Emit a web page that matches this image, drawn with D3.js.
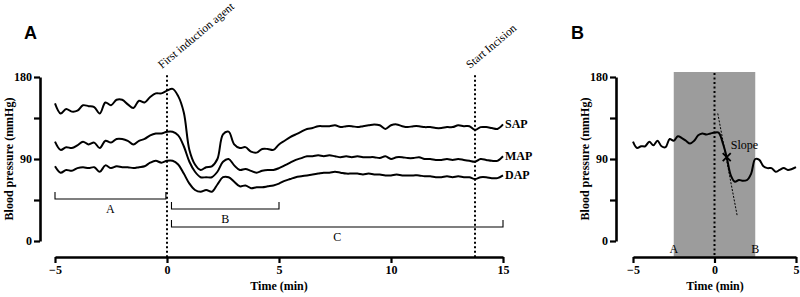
<!DOCTYPE html>
<html>
<head>
<meta charset="utf-8">
<script src="https://cdn.jsdelivr.net/npm/d3@7"></script>
<style>
  body { margin: 0; background: #fff; }
</style>
</head>
<body>
<div></div>
<script>

// panel A: time grid (min) and the three pressure traces (mmHg)
const timeA = d3.range(-5, 15.001, 0.25);
const sap = [151,140,145,142,143,149,148,147,140,152,149,155,155,150,146,154,152,158,162,162,165,167,
             159,141,100,84,78,81,82,90,117,120,106,102,103,98,97,101,101,100,106,110,114,117,
             120,123,124,126,126,126,127,125,126,126,125,126,127,128,127,123,127,128,126,125,126,126,125,125,
             124,124,125,125,127,126,126,122,125,125,124,123,128];
const map = [109,100,103,102,105,109,106,108,102,110,108,112,112,110,106,110,112,116,118,118,120,120,
             116,104,87,76,70,70,70,76,87,90,83,78,79,77,75,77,78,78,80,83,86,89,
             91,93,93,94,93,94,93,92,93,92,93,92,92,92,91,93,90,92,92,91,91,92,90,90,
             89,89,90,89,90,89,88,87,90,89,88,88,93];
const dap = [82,75,78,77,80,81,80,81,76,83,80,82,81,81,80,81,82,86,88,86,88,88,
             84,74,63,56,54,56,54,62,70,70,65,60,61,58,59,59,60,61,63,66,68,70,
             71,72,73,74,75,75,76,75,74,74,74,73,74,73,73,72,72,73,72,72,72,72,71,71,
             70,70,71,70,71,70,70,68,70,70,69,69,72];
const seriesNames = ["SAP", "MAP", "DAP"];

const eventTimes = [0, 13.75];
const eventLabels = ["First induction agent", "Start Incision"];

const phaseLabels = ["A", "B", "C"];
const phaseStart = [-5, 0.2, 0.2];
const phaseEnd = [-0.05, 5, 15];

// panel B: single trace
const timeB = d3.range(-5, 5.001, 0.25);
const bpB = [109,102,104,104,109,105,110,104,103,112,110,115,113,110,107,110,116,118,117,118,119,119,
             108,92,72,65,67,66,67,74,90,89,82,80,80,76,78,80,78,79,81];
const windowB = [-2.5, 2.5];
const windowLabels = ["A", "B"];
const slopePoint = [0.75, 92];
const slopeLine = [[0.2, 140], [1.4, 27]];

const yTicks = [0, 45, 90, 135, 180];
const yLabelTicks = [0, 90, 180];

const serif = "'Liberation Serif', 'DejaVu Serif', serif";
const sans = "'Liberation Sans', Arial, sans-serif";

function main(){
    let width = 800, height = 297;
    let svg = d3.select("div").append("svg")
                .attr("width", width).attr("height", height)
                .style("font-family", serif);

    let axisY = 257;
    let y = d3.scaleLinear().domain([0, 180]).range([241, 77]);

    function addText(g, size, txt){
        return g.append("text").style("font-family", serif).attr("font-size", size)
                .attr("fill", "#000").text(txt);
    }

    function styleAxis(s){
        s.attr("font-family", null).attr("font-size", null);
        s.select(".domain").attr("stroke-width", 2.6);
        s.selectAll(".tick line").attr("stroke-width", 2.2);
        s.selectAll(".tick text").style("font-family", serif)
            .attr("font-size", 12).attr("font-weight", "bold");
    }

    function drawAxes(g, x, yAxisX, xTicks, titleX){
        let yAxis = d3.axisLeft(y).tickValues(yTicks).tickSize(6).tickSizeOuter(0).tickPadding(2)
                        .tickFormat(d => yLabelTicks.includes(d) ? d : "");
        g.append("g").attr("transform", `translate(${yAxisX},0)`).call(yAxis).call(styleAxis);
        let xAxis = d3.axisBottom(x).tickValues(xTicks).tickSize(6).tickSizeOuter(0).tickPadding(2);
        g.append("g").attr("transform", `translate(0,${axisY})`).call(xAxis).call(styleAxis);

        addText(g, 12, "Time (min)")
            .attr("x", titleX).attr("y", 290)
            .attr("text-anchor", "middle").attr("font-weight", "bold");
        addText(g, 12, "Blood pressure (mmHg)")
            .attr("transform", `translate(${yAxisX - 27},159) rotate(-90)`)
            .attr("text-anchor", "middle").attr("font-weight", "bold");
    }

    let line = (x) => d3.line().x(d => x(d[0])).y(d => y(d[1])).curve(d3.curveCatmullRom.alpha(0.5));

    // ---------- panel A ----------
    let xA = d3.scaleLinear().domain([-5, 15]).range([55, 503]);
    let gA = svg.append("g").attr("id", "panelA");

    gA.append("text").attr("x", 24).attr("y", 39)
        .style("font-family", sans)
        .attr("font-size", 18).attr("font-weight", "bold").text("A");

    drawAxes(gA, xA, 40, [-5, 0, 5, 10, 15], 279);

    eventTimes.forEach((t, i) => {
        gA.append("line")
            .attr("x1", xA(t)).attr("x2", xA(t))
            .attr("y1", y(182)).attr("y2", axisY)
            .attr("stroke", "#000").attr("stroke-width", 2).attr("stroke-dasharray", "2,2.5");
        addText(gA, 11.5, eventLabels[i])
            .attr("transform", `translate(${xA(t) - 5},69) rotate(-40)`);
    });

    let bracketY = [199, 209, 227];
    phaseLabels.forEach((lab, i) => {
        let x0 = xA(phaseStart[i]), x1 = xA(phaseEnd[i]), by = bracketY[i];
        gA.append("path")
            .attr("d", `M${x0},${by - 7}V${by}H${x1}V${by - 7}`)
            .attr("fill", "none").attr("stroke", "#000").attr("stroke-width", 1.1);
        addText(gA, 12, lab).attr("x", (x0 + x1) / 2).attr("y", by + 14)
            .attr("text-anchor", "middle");
    });

    [sap, map, dap].forEach((vals, i) => {
        let pts = timeA.map((t, j) => [t, vals[j]]);
        gA.append("path").datum(pts)
            .attr("d", line(xA))
            .attr("fill", "none").attr("stroke", "#000").attr("stroke-width", 2);
        addText(gA, 12, seriesNames[i])
            .attr("x", xA(15) + 2).attr("y", y(vals[vals.length - 1]) + 4)
            .attr("font-weight", "bold");
    });

    // ---------- panel B ----------
    let xB = d3.scaleLinear().domain([-5, 5]).range([633, 796]);
    let gB = svg.append("g").attr("id", "panelB");

    gB.append("text").attr("x", 571).attr("y", 39)
        .style("font-family", sans)
        .attr("font-size", 18).attr("font-weight", "bold").text("B");

    gB.append("rect")
        .attr("x", xB(windowB[0])).attr("width", xB(windowB[1]) - xB(windowB[0]))
        .attr("y", 72).attr("height", axisY - 72)
        .attr("fill", "#9c9c9c");

    drawAxes(gB, xB, 616, [-5, 0, 5], 715);

    windowB.forEach((t, i) => {
        addText(gB, 12, windowLabels[i]).attr("x", xB(t)).attr("y", 253)
            .attr("text-anchor", "middle");
    });

    gB.append("line")
        .attr("x1", xB(0)).attr("x2", xB(0)).attr("y1", 73).attr("y2", axisY)
        .attr("stroke", "#000").attr("stroke-width", 2).attr("stroke-dasharray", "2,2.5");

    gB.append("path").datum(slopeLine)
        .attr("d", d3.line().x(d => xB(d[0])).y(d => y(d[1])))
        .attr("stroke", "#000").attr("stroke-width", 1).attr("stroke-dasharray", "2,1.5");

    gB.append("path").datum(timeB.map((t, j) => [t, bpB[j]]))
        .attr("d", line(xB))
        .attr("fill", "none").attr("stroke", "#000").attr("stroke-width", 2);

    let sx = xB(slopePoint[0]), sy = y(slopePoint[1]), r = 4;
    gB.append("path")
        .attr("d", `M${sx - r},${sy - r}L${sx + r},${sy + r}M${sx - r},${sy + r}L${sx + r},${sy - r}`)
        .attr("stroke", "#000").attr("stroke-width", 1.8);
    addText(gB, 12, "Slope").attr("x", sx + 4).attr("y", sy - 8);
}

main();
</script>
</body>
</html>
